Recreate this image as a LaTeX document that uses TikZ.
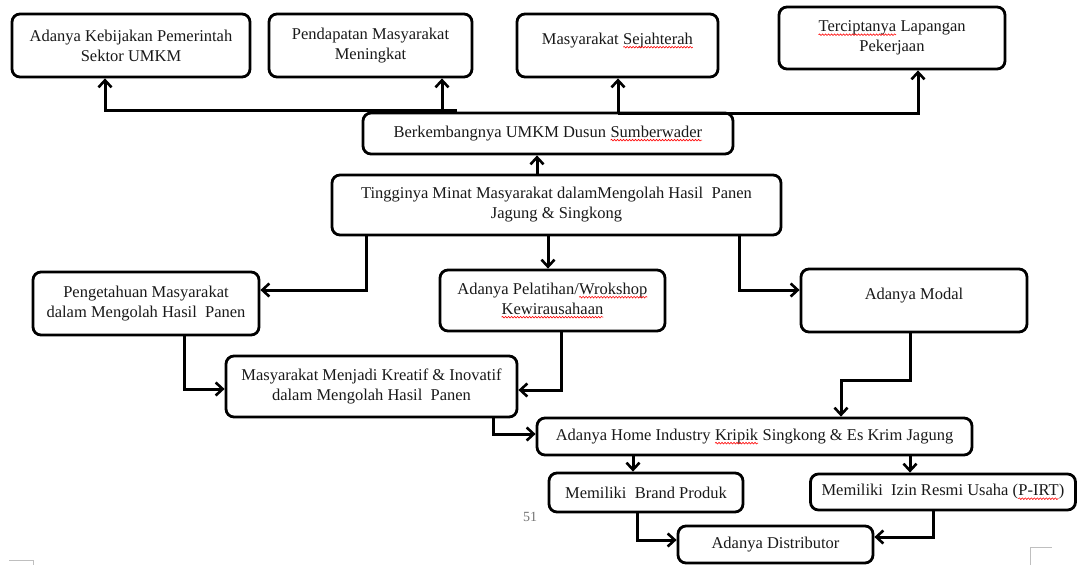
\documentclass[tikz,border=0pt]{standalone}
\usepackage{fontspec}
\setmainfont{Liberation Serif}
\usetikzlibrary{arrows.meta,decorations.pathmorphing}
\newcommand\wv[1]{\tikz[baseline=(w.base)]{\node[inner sep=0pt,outer sep=0pt,draw=none,minimum width=0pt,minimum height=0pt,rounded corners=0pt](w){#1};\draw[red,line width=0.6pt,sharp corners,decorate,decoration={snake,amplitude=0.8pt,segment length=3pt}]([yshift=-3pt]w.base west)--([yshift=-3pt]w.base east);}}
\tikzset{
  box/.style={draw=black, line width=2.8pt, rounded corners=8pt, align=center,
    inner sep=2pt, font=\fontsize{16.5}{20}\selectfont, text=black!90},
  arr/.style={line width=3pt, -{Straight Barb[length=7pt,width=13pt,line width=2.6pt]}},
  cropmark/.style={draw=black!25, line width=1pt}
}
\begin{document}
\begin{tikzpicture}[x=1pt,y=-1pt]
\useasboundingbox (0,0) rectangle (1079,565);
% top row
\node[box, minimum width=238pt, minimum height=63pt] (b1) at (131,45.5) {Adanya Kebijakan Pemerintah\\Sektor UMKM};
\node[box, minimum width=203pt, minimum height=63pt] (b2) at (370.5,45.5) {Pendapatan Masyarakat\\Meningkat};
\node[box, minimum width=201pt, minimum height=63pt] (b3) at (617.5,45.5) {\raisebox{0pt}[\height][\dimexpr\depth+10pt]{Masyarakat \wv{Sejahterah}}};
\node[box, minimum width=226pt, minimum height=62pt] (b4) at (892,38) {\wv{Terciptanya} Lapangan\\Pekerjaan};
% middle
\node[box, minimum width=370pt, minimum height=41pt] (b5) at (548,133.5) {Berkembangnya UMKM Dusun \wv{Sumberwader}};
\node[box, minimum width=449pt, minimum height=60pt] (b6) at (556.5,205) {Tingginya Minat Masyarakat dalamMengolah Hasil\ \ Panen\\Jagung \& Singkong};
\node[box, minimum width=226pt, minimum height=63pt] (b7) at (146,303.5) {Pengetahuan Masyarakat\\dalam Mengolah Hasil\ \ Panen};
\node[box, minimum width=225pt, minimum height=61pt] (b8) at (552.5,300.5) {Adanya Pelatihan/\wv{Wrokshop}\\\wv{Kewirausahaan}};
\node[box, minimum width=226pt, minimum height=63pt] (b9) at (914,300.5) {\raisebox{0pt}[\height][\dimexpr\depth+10pt]{Adanya Modal}};
\node[box, minimum width=291pt, minimum height=61pt] (b10) at (371.5,386.5) {Masyarakat Menjadi Kreatif \& Inovatif\\dalam Mengolah Hasil\ \ Panen};
% bottom
\node[box, minimum width=435pt, minimum height=37pt] (b11) at (754.5,436.5) {Adanya Home Industry \wv{Kripik} Singkong \& Es Krim Jagung};
\node[box, minimum width=194pt, minimum height=39pt] (b12) at (646,492.5) {Memiliki\ \ Brand Produk};
\node[box, minimum width=265pt, minimum height=36pt] (b14) at (943,492) {Memiliki\ \ Izin Resmi Usaha (\wv{P-IRT})};
\node[box, minimum width=195pt, minimum height=37pt] (b13) at (775.5,544.5) {Adanya Distributor};
% page number
\node[font=\fontsize{14}{16}\selectfont, text=black!55] (pg) at (530,517) {51};
% connectors top
\coordinate (j1) at (457,110);
\coordinate (j2) at (442,110);
\draw[arr] (j1) -| ([xshift=-26pt]b1.south);
\draw[arr] (j2) -- (j2 |- b2.south);
\coordinate (j3) at (618,113);
\coordinate (j4) at (918,113);
\draw[arr] (j3) -- (j3 |- b3.south);
\draw[arr] (j3) -- (j4) -- (j4 |- b4.south);
\draw[arr] ([xshift=-19.5pt]b6.north) -- ([xshift=-11pt]b5.south);
% connectors middle
\coordinate (k1) at (366,290);
\draw[arr] (k1 |- b6.south) -- (k1) -- (k1 -| b7.east);
\draw[arr] ([xshift=-8.5pt]b6.south) -- ([xshift=-4.5pt]b8.north);
\coordinate (k2) at (739,290);
\draw[arr] (k2 |- b6.south) -- (k2) -- (k2 -| b9.west);
\coordinate (k3) at (184,389);
\draw[arr] (k3 |- b7.south) -- (k3) -- (k3 -| b10.west);
\coordinate (k4) at (561,390);
\draw[arr] (k4 |- b8.south) -- (k4) -- (k4 -| b10.east);
\coordinate (k5) at (910,380);
\coordinate (k6) at (841,380);
\draw[arr] (k5 |- b9.south) -- (k5) -- (k6) -- (k6 |- b11.north);
\coordinate (k7) at (493,434);
\draw[arr] (k7 |- b10.south) -- (k7) -- (k7 -| b11.west);
% connectors bottom
\coordinate (m1) at (633,455);
\draw[arr] (m1 |- b11.south) -- (m1 |- b12.north);
\coordinate (m2) at (910,455);
\draw[arr] (m2 |- b11.south) -- (m2 |- b14.north);
\coordinate (m3) at (637,540);
\draw[arr] (m3 |- b12.south) -- (m3) -- (m3 -| b13.west);
\coordinate (m4) at (933,537);
\draw[arr] (m4 |- b14.south) -- (m4) -- (m4 -| b13.east);
% page crop marks
\draw[cropmark] (9,560) -- (33,560) -- (33,565);
\draw[cropmark] (1030,565) -- (1030,547) -- (1052,547);
\end{tikzpicture}
\end{document}
